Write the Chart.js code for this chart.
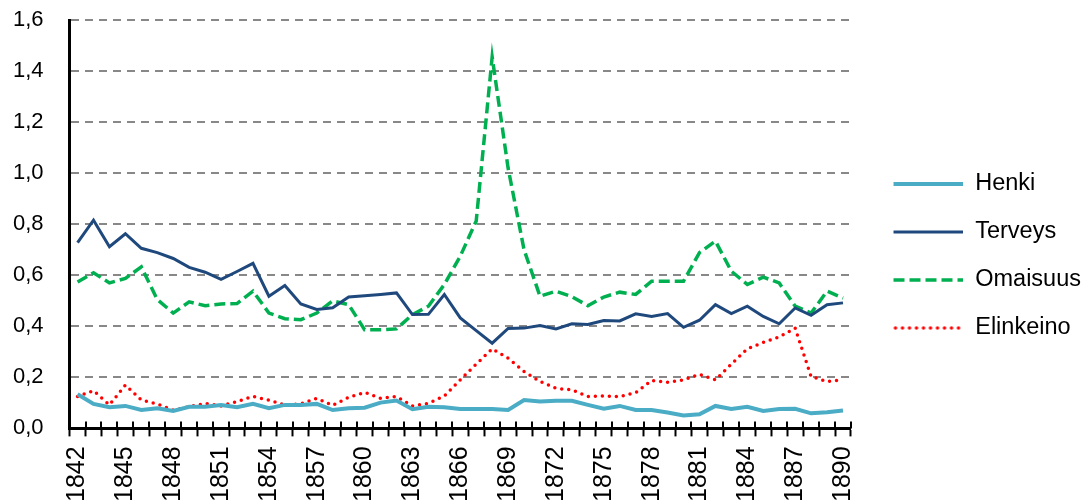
<!DOCTYPE html>
<html>
<head>
<meta charset="utf-8">
<script src="https://cdn.jsdelivr.net/npm/chart.js@4/dist/chart.umd.min.js"></script>
<style>
  html, body { margin: 0; padding: 0; background: #fff; overflow: hidden; }
  #wrap { width: 1083px; height: 512px; position: relative; }
</style>
</head>
<body>
<div id="wrap"><canvas id="chart"></canvas></div>
<script>
// years on the x axis
const years = ['1842','1843','1844','1845','1846','1847','1848','1849','1850','1851',
  '1852','1853','1854','1855','1856','1857','1858','1859','1860','1861',
  '1862','1863','1864','1865','1866','1867','1868','1869','1870','1871',
  '1872','1873','1874','1875','1876','1877','1878','1879','1880','1881',
  '1882','1883','1884','1885','1886','1887','1888','1889','1890'];

const henki = [0.134,0.096,0.083,0.088,0.072,0.079,0.068,0.085,0.085,0.092,
  0.083,0.096,0.079,0.092,0.092,0.096,0.072,0.079,0.081,0.101,
  0.109,0.075,0.085,0.083,0.076,0.076,0.076,0.072,0.111,0.105,
  0.108,0.108,0.092,0.077,0.088,0.072,0.072,0.062,0.051,0.055,
  0.088,0.076,0.085,0.068,0.076,0.077,0.059,0.063,0.070];

const terveys = [0.728,0.816,0.712,0.763,0.706,0.689,0.666,0.631,0.612,0.584,
  0.615,0.647,0.518,0.560,0.488,0.466,0.473,0.515,0.520,0.525,
  0.531,0.446,0.447,0.525,0.433,0.383,0.334,0.392,0.393,0.403,
  0.390,0.410,0.407,0.423,0.421,0.449,0.439,0.450,0.396,0.424,
  0.485,0.450,0.479,0.439,0.410,0.472,0.443,0.485,0.492];

const omaisuus = [0.574,0.610,0.570,0.588,0.633,0.505,0.452,0.496,0.481,0.488,
  0.489,0.538,0.452,0.430,0.426,0.452,0.500,0.485,0.387,0.387,
  0.390,0.446,0.479,0.564,0.675,0.813,1.456,1.020,0.700,0.518,
  0.538,0.516,0.481,0.515,0.534,0.525,0.577,0.577,0.577,0.689,
  0.734,0.616,0.564,0.593,0.570,0.479,0.452,0.538,0.511];

const elinkeino = [0.125,0.148,0.092,0.170,0.111,0.096,0.072,0.085,0.098,0.088,
  0.105,0.125,0.111,0.092,0.096,0.118,0.090,0.122,0.141,0.118,
  0.125,0.088,0.098,0.127,0.190,0.252,0.312,0.275,0.223,0.184,
  0.157,0.151,0.125,0.127,0.124,0.140,0.188,0.181,0.190,0.212,
  0.190,0.252,0.312,0.337,0.358,0.393,0.203,0.184,0.190];

const yTicks = [0, 0.2, 0.4, 0.6, 0.8, 1.0, 1.2, 1.4, 1.6];

const FONT = "'Liberation Sans', Arial, sans-serif";

// legend sample: a short line with some empty room before it
const LEG_GAP = 18, LEG_LINE = 70;
function legendLine(color, width, dash, cap) {
  const c = document.createElement('canvas');
  c.width = LEG_GAP + LEG_LINE;
  c.height = 10;
  const g = c.getContext('2d');
  g.strokeStyle = color;
  g.lineWidth = width;
  g.lineCap = cap || 'butt';
  g.setLineDash(dash || []);
  g.beginPath();
  g.moveTo(LEG_GAP + (cap === 'round' ? 2 : 0), 5);
  g.lineTo(c.width, 5);
  g.stroke();
  return c;
}

// Excel style tick marks that cross the category axis
const crossTicks = {
  id: 'crossTicks',
  afterDraw(chart) {
    const x = chart.scales.x;
    const ctx = chart.ctx;
    const n = years.length;
    const step = x.width / n;
    ctx.save();
    ctx.strokeStyle = '#000';
    ctx.lineWidth = 2;
    ctx.beginPath();
    for (let i = 0; i <= n; i++) {
      const px = Math.round(x.left + i * step);
      ctx.moveTo(px, x.top - 7);
      ctx.lineTo(px, x.top);
    }
    ctx.stroke();
    ctx.restore();
  }
};

const ctx = document.getElementById('chart').getContext('2d');
new Chart(ctx, {
  type: 'line',
  data: {
    labels: years,
    datasets: [
      { label: 'Henki', data: henki, borderColor: '#4bacc6', backgroundColor: '#4bacc6',
        borderWidth: 4, pointRadius: 0, tension: 0,
        pointStyle: legendLine('#4bacc6', 4) },
      { label: 'Terveys', data: terveys, borderColor: '#1f497d', backgroundColor: '#1f497d',
        borderWidth: 3, pointRadius: 0, tension: 0,
        pointStyle: legendLine('#1f497d', 3) },
      { label: 'Omaisuus', data: omaisuus, borderColor: '#00b050', backgroundColor: '#00b050',
        borderWidth: 3.5, borderDash: [11, 5], pointRadius: 0, tension: 0,
        pointStyle: legendLine('#00b050', 3.5, [11, 5]) },
      { label: 'Elinkeino', data: elinkeino, borderColor: '#ff0000', backgroundColor: '#ff0000',
        borderWidth: 3.5, borderDash: [0, 7], borderCapStyle: 'round', pointRadius: 0, tension: 0,
        pointStyle: legendLine('#ff0000', 3.5, [0, 7], 'round') }
    ]
  },
  options: {
    responsive: true,
    maintainAspectRatio: false,
    animation: false,
    layout: { padding: { top: 0, left: 6, right: -8, bottom: 0 } },
    plugins: {
      tooltip: { enabled: false },
      legend: {
        position: 'right',
        labels: {
          usePointStyle: true,
          pointStyleWidth: LEG_GAP + LEG_LINE,
          padding: 24.5,
          color: '#000',
          font: { family: FONT, size: 23.5 }
        }
      }
    },
    scales: {
      x: {
        offset: true,
        grid: { display: true, offset: true, drawOnChartArea: false, drawTicks: true,
          tickLength: 8, tickColor: '#000', tickWidth: 2 },
        border: { display: true, color: '#000', width: 3 },
        ticks: {
          autoSkip: false, minRotation: 90, maxRotation: 90, padding: 10,
          color: '#000', font: { family: FONT, size: 25 },
          callback: (v, i) => (i % 3 === 0 ? years[i] : '')
        }
      },
      y: {
        min: 0, max: 1.6,
        afterBuildTicks: s => { s.ticks = yTicks.map(v => ({ value: v })); },
        grid: {
          color: c => (c.tick && c.tick.value === 0 ? 'rgba(0,0,0,0)' : '#888'),
          lineWidth: 2, drawTicks: true, tickLength: 19, tickColor: 'rgba(0,0,0,0)'
        },
        border: { display: true, color: '#000', width: 3, dash: [8, 6] },
        ticks: {
          padding: 7, color: '#000', font: { family: FONT, size: 22 },
          callback: v => v.toFixed(1).replace('.', ',')
        }
      }
    }
  },
  plugins: [crossTicks]
});
</script>
</body>
</html>
